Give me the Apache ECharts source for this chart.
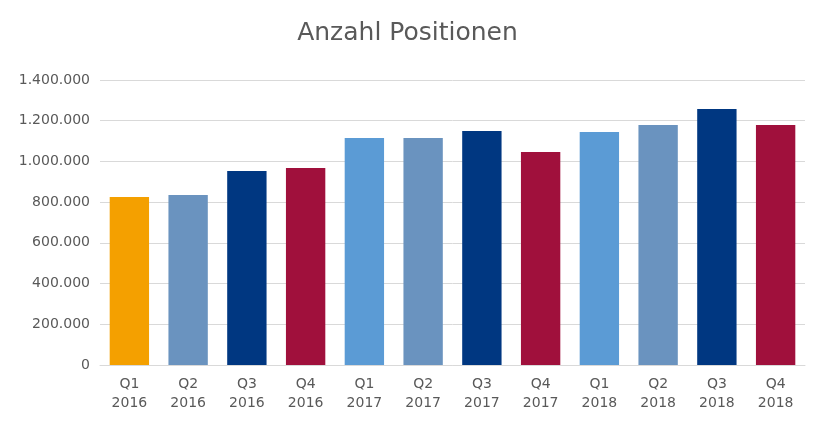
<!DOCTYPE html>
<html><head><meta charset="utf-8">
<script src="https://cdn.jsdelivr.net/npm/echarts@6/dist/echarts.min.js"></script>
<style>html,body{margin:0;padding:0;background:#fff}#c{width:815px;height:433px}</style>
</head><body><div id="c"></div>
<script>
const categories = ['Q1\n2016','Q2\n2016','Q3\n2016','Q4\n2016','Q1\n2017','Q2\n2017','Q3\n2017','Q4\n2017','Q1\n2018','Q2\n2018','Q3\n2018','Q4\n2018'];
const values = [825000, 835000, 953000, 968000, 1115000, 1115000, 1149000, 1046000, 1144000, 1179000, 1257000, 1179000];
const barColors = ['#F4A000','#6A93BF','#003781','#A0103C','#5B9BD5','#6A93BF','#003781','#A0103C','#5B9BD5','#6A93BF','#003781','#A0103C'];

const chart = echarts.init(document.getElementById('c'));
const fmt = v => String(v).replace(/\B(?=(\d{3})+(?!\d))/g, '.');
chart.setOption({
  animation: false,
  textStyle: { fontFamily: 'DejaVu Sans' },
  title: {
    text: 'Anzahl Positionen', left: 'center', top: 16,
    textStyle: { fontSize: 25, fontWeight: 'normal', color: '#595959', fontFamily: 'DejaVu Sans' }
  },
  grid: { left: 100, right: 10, top: 80, bottom: 68 },
  xAxis: {
    type: 'category', data: categories,
    axisLine: { lineStyle: { color: '#d9d9d9' } },
    axisTick: { show: false },
    axisLabel: { color: '#595959', fontSize: 14, lineHeight: 19, margin: 10 }
  },
  yAxis: {
    type: 'value', min: 0, max: 1400000, interval: 200000,
    axisLine: { show: false }, axisTick: { show: false },
    splitLine: { lineStyle: { color: '#d9d9d9' } },
    axisLabel: { color: '#595959', fontSize: 14, margin: 10, formatter: fmt }
  },
  series: [{
    type: 'bar', barWidth: '67%',
    data: values.map((v, i) => ({ value: v, itemStyle: { color: barColors[i] } }))
  }]
});
</script></body></html>
